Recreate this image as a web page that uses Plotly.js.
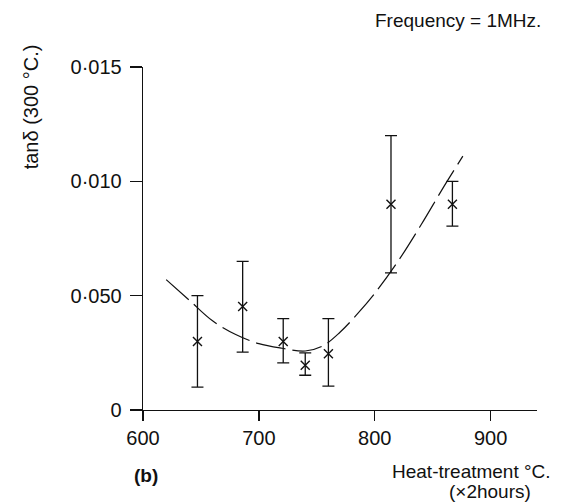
<!DOCTYPE html>
<html>
<head>
<meta charset="utf-8">
<script src="https://cdn.plot.ly/plotly-3.0.1.min.js"></script>
<style>html,body{margin:0;padding:0;background:#fff;}#chart{width:562px;height:504px;}</style>
</head>
<body>
<div id="chart"></div>
<script>
// Measured points (heat-treatment temperature, tan delta) with error bar ends
const temps = [647, 686, 721, 740, 760, 814, 867];
const tanDelta = [0.0030, 0.00453, 0.0030, 0.00196, 0.00246, 0.0090, 0.0090];
const errUpper = [0.0050, 0.0065, 0.0040, 0.0025, 0.0040, 0.0120, 0.0100];
const errLower = [0.0010, 0.00253, 0.00206, 0.00152, 0.00104, 0.0060, 0.00804];

// Hand-drawn trend curve
const curveX = [620, 640, 660, 680, 700, 720, 740, 755, 770, 785, 800, 820, 840, 860, 876];
const curveY = [0.0057, 0.0048, 0.0039, 0.0033, 0.0029, 0.0027, 0.00258, 0.0028, 0.0034, 0.0042, 0.0051, 0.0065, 0.0081, 0.0098, 0.0111];

// Tick labels (as printed in the original)
const xTickVals = [600, 700, 800, 900];
const xTickText = ['600', '700', '800', '900'];
const yTickVals = [0, 0.005, 0.010, 0.015];
const yTickText = ['0', '0·050', '0·010', '0·015'];

const plus = tanDelta.map((v, i) => errUpper[i] - v);
const minus = tanDelta.map((v, i) => v - errLower[i]);

const FONT = 'Liberation Sans, Arial, sans-serif';

const traces = [
  {
    x: curveX, y: curveY, mode: 'lines', type: 'scatter',
    line: {color: '#111', width: 1.2, shape: 'spline', dash: '30px,7px'},
    hoverinfo: 'skip'
  },
  {
    x: temps, y: tanDelta, mode: 'markers', type: 'scatter',
    marker: {symbol: 'x-thin-open', size: 9, color: '#111', line: {color: '#111', width: 1.4}},
    error_y: {type: 'data', symmetric: false, array: plus, arrayminus: minus,
              color: '#111', thickness: 1.3, width: 6}
  }
];

const layout = {
  width: 562, height: 504,
  margin: {l: 143, r: 25, t: 67, b: 94},
  paper_bgcolor: '#fff', plot_bgcolor: '#fff',
  showlegend: false,
  font: {family: FONT, color: '#111', size: 18},
  xaxis: {
    range: [600, 940], showgrid: false, zeroline: false,
    showline: true, linecolor: '#111', linewidth: 1.3,
    ticks: 'outside', ticklen: 10, tickwidth: 1.3, tickcolor: '#111',
    tickvals: xTickVals, ticktext: xTickText, ticklabelstandoff: 0,
    tickfont: {family: FONT, size: 20, color: '#111'}
  },
  yaxis: {
    range: [0, 0.015], showgrid: false, zeroline: false,
    showline: true, linecolor: '#111', linewidth: 1.3,
    ticks: 'outside', ticklen: 12, tickwidth: 1.3, tickcolor: '#111',
    tickvals: yTickVals, ticktext: yTickText, ticklabelstandoff: 4,
    tickfont: {family: FONT, size: 20, color: '#111'}
  },
  annotations: [
    {text: 'Frequency = 1MHz.', xref: 'paper', yref: 'paper', x: 1.015, y: 1.137,
     xanchor: 'right', yanchor: 'middle', showarrow: false, font: {family: FONT, size: 19, color: '#111'}},
    {text: 'tanδ (300 °C.)', xref: 'paper', yref: 'paper', x: -0.282, y: 0.885,
     xanchor: 'center', yanchor: 'middle', textangle: -90, showarrow: false,
     font: {family: FONT, size: 20, color: '#111'}},
    {text: 'Heat-treatment °C.', xref: 'paper', yref: 'paper', x: 1.041, y: -0.178,
     xanchor: 'right', yanchor: 'middle', showarrow: false, font: {family: FONT, size: 19, color: '#111'}},
    {text: '(×2hours)', xref: 'paper', yref: 'paper', x: 0.990, y: -0.238,
     xanchor: 'right', yanchor: 'middle', showarrow: false, font: {family: FONT, size: 19, color: '#111'}},
    {text: '<b>(b)</b>', xref: 'paper', yref: 'paper', x: -0.028, y: -0.19,
     xanchor: 'left', yanchor: 'middle', showarrow: false, font: {family: FONT, size: 19, color: '#111'}}
  ]
};

Plotly.newPlot('chart', traces, layout, {displayModeBar: false, staticPlot: true});
</script>
</body>
</html>
